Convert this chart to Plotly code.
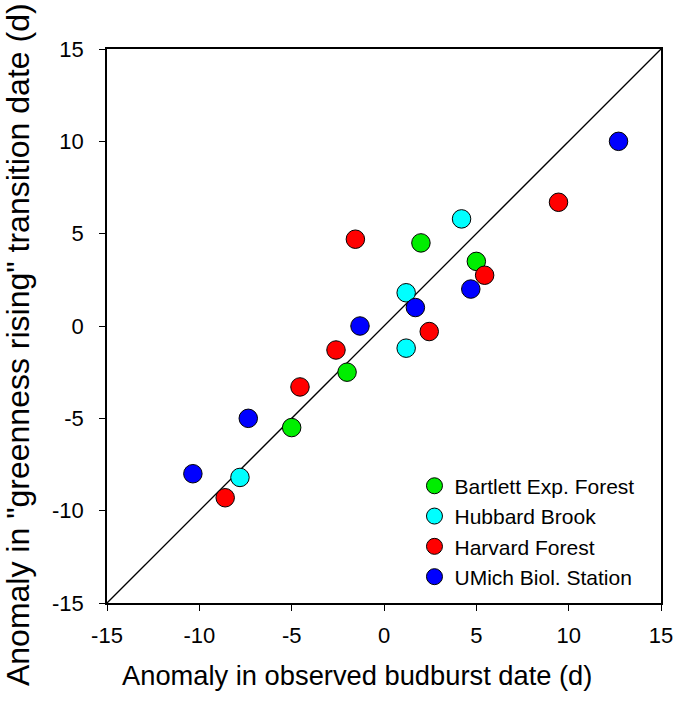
import plotly.graph_objects as go

# values (days)
bartlett_x = [2.0, 5.0, -2.0, -5.0]
bartlett_y = [4.5, 3.5, -2.5, -5.5]

hubbard_x = [4.2, 1.2, 1.2, -7.8]
hubbard_y = [5.8, 1.8, -1.2, -8.2]

harvard_x = [9.45, -1.55, 5.45, 2.45, -2.6, -4.55, -8.6]
harvard_y = [6.7, 4.7, 2.75, -0.3, -1.3, -3.3, -9.3]

umich_x = [12.7, 4.7, 1.7, -1.3, -7.35, -10.35]
umich_y = [10.0, 2.0, 1.0, 0.0, -5.0, -8.0]

one_to_one = [-15, 15]
ticks = [-15, -10, -5, 0, 5, 10, 15]
tick_labels = ["-15", "-10", "-5", "0", "5", "10", "15"]

FONT = "Liberation Sans, Arial, sans-serif"

fig = go.Figure()

fig.add_trace(go.Scatter(
    x=one_to_one, y=one_to_one, mode="lines",
    line=dict(color="black", width=1.3), showlegend=False, hoverinfo="skip",
))

series = [
    ("Bartlett Exp. Forest", bartlett_x, bartlett_y, "#00ee00"),
    ("Hubbard Brook", hubbard_x, hubbard_y, "#00ffff"),
    ("Harvard Forest", harvard_x, harvard_y, "#ff0000"),
    ("UMich Biol. Station", umich_x, umich_y, "#0000ff"),
]
for name, xs, ys, color in series:
    fig.add_trace(go.Scatter(
        x=xs, y=ys, mode="markers", name=name,
        marker=dict(size=18.5, color=color, line=dict(color="black", width=1)),
    ))

axis_common = dict(
    range=[-15, 15], tickvals=ticks, ticktext=tick_labels, ticks="outside",
    ticklen=6, tickwidth=1.3, tickcolor="black", showline=True,
    linecolor="black", linewidth=1.5, mirror=True, showgrid=False,
    zeroline=False, automargin=False,
    tickfont=dict(family=FONT, size=22, color="black"),
)

fig.update_xaxes(**axis_common, ticklabelstandoff=6)
fig.update_yaxes(**axis_common, ticklabelstandoff=11)

# axis titles as annotations so they can sit off-centre like the original
fig.add_annotation(
    text="Anomaly in observed budburst date (d)", xref="paper", yref="paper",
    x=0.451, y=-0.13, xanchor="center", yanchor="middle", showarrow=False,
    font=dict(family=FONT, size=27.3, color="black"),
)
fig.add_annotation(
    text='Anomaly in "greenness rising" transition date (d)',
    xref="paper", yref="paper", x=-0.1606, y=0.4657, textangle=-90,
    xanchor="center", yanchor="middle", showarrow=False,
    font=dict(family=FONT, size=32, color="black"),
)

fig.update_layout(
    width=675, height=701,
    margin=dict(l=107, r=14, t=49, b=98),
    plot_bgcolor="white", paper_bgcolor="white",
    font=dict(family=FONT, color="black"),
    legend=dict(
        x=0.555, y=0.248, xanchor="left", yanchor="top",
        bgcolor="rgba(0,0,0,0)", font=dict(family=FONT, size=21, color="black"),
        itemwidth=30,
    ),
)

fig.write_html(
    "out.html",
    config={"displayModeBar": False},
    post_script="document.body.style.margin='0';document.body.style.overflow='hidden';",
)
